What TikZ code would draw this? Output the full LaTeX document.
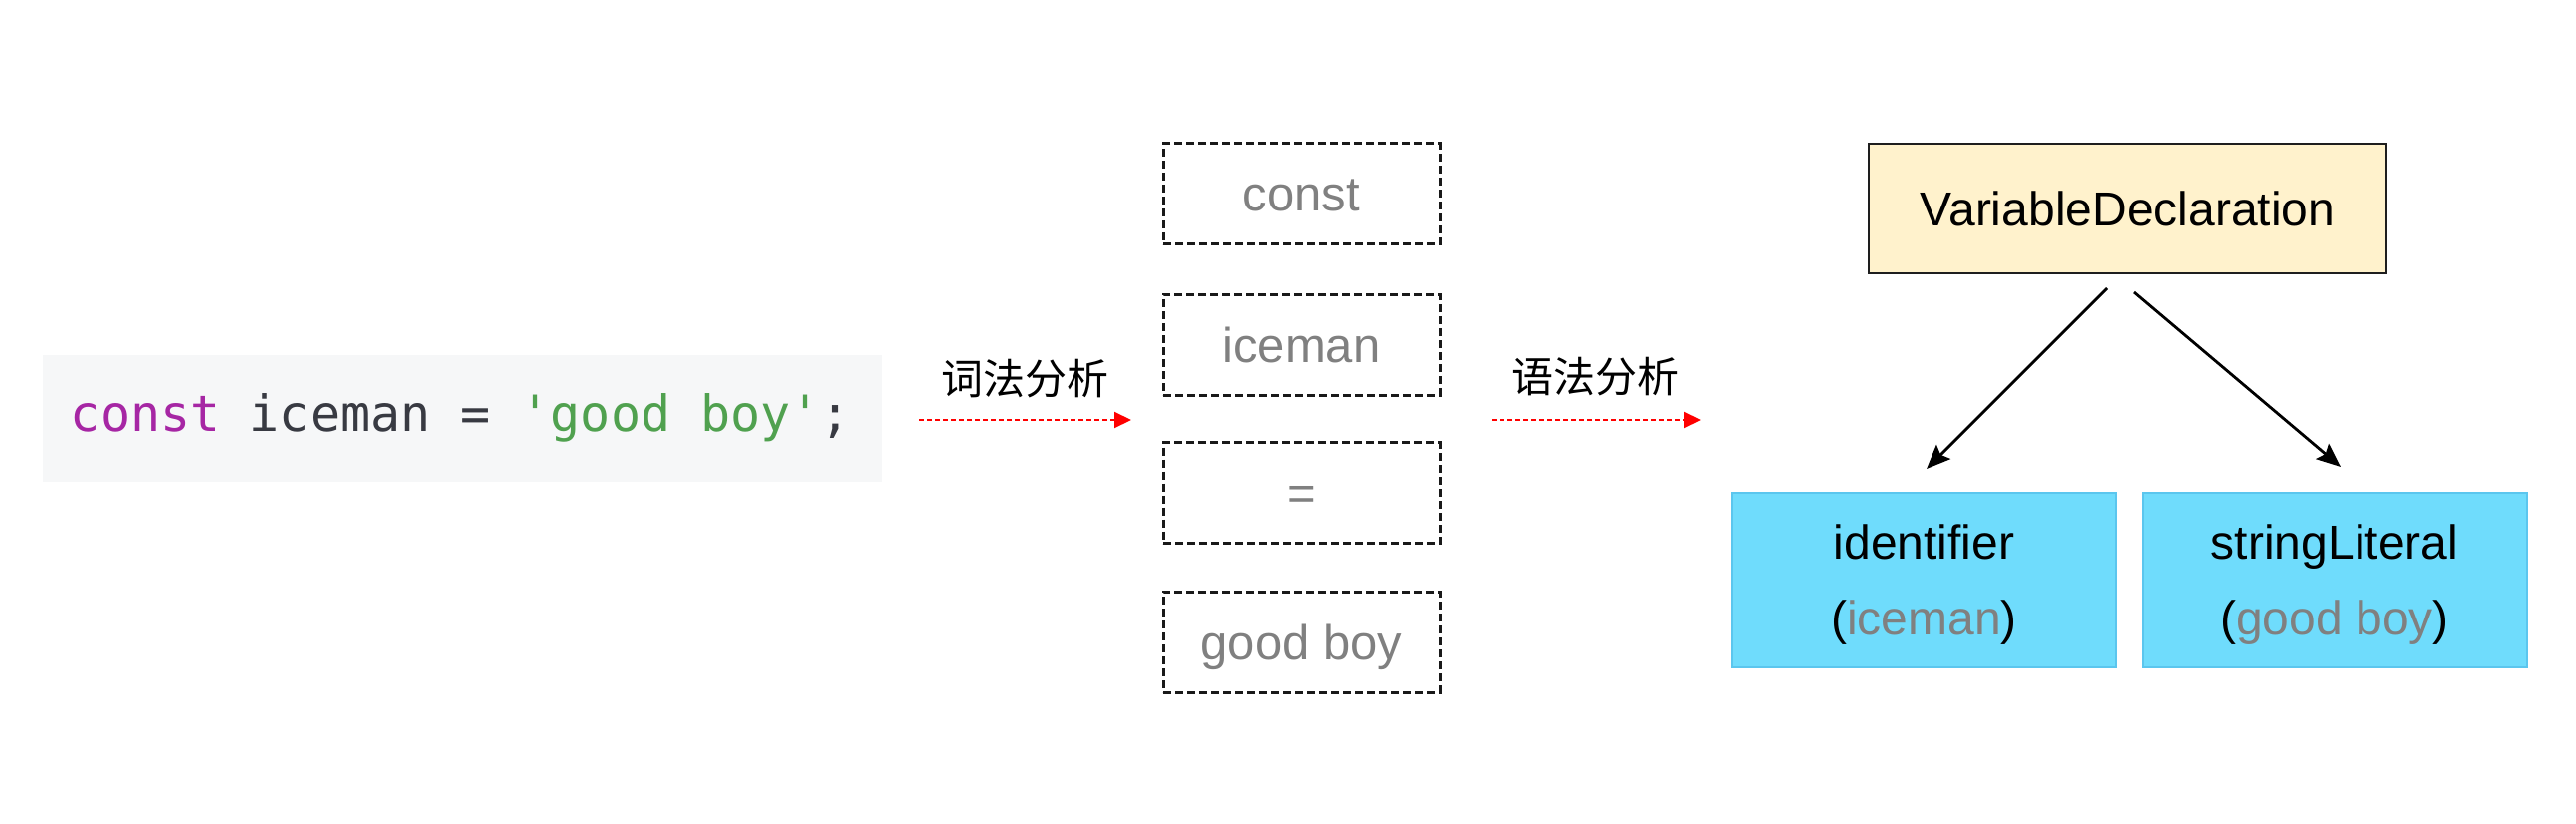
\documentclass[tikz,border=0pt]{standalone}
\usepackage{fontspec}
\setmainfont{Liberation Sans}
\newfontfamily\cjkfont{Noto Sans CJK SC}
\newfontfamily\codefont[Ligatures=TeXOff]{DejaVu Sans Mono}
\usetikzlibrary{arrows.meta}
\definecolor{codebg}{HTML}{F6F7F8}
\definecolor{kw}{HTML}{A626A4}
\definecolor{str}{HTML}{50A14F}
\definecolor{plain}{HTML}{383A42}
\definecolor{tokgray}{HTML}{808080}
\definecolor{declfill}{HTML}{FFF2CC}
\definecolor{declline}{HTML}{1E1E1E}
\definecolor{leaffill}{HTML}{6FDCFC}
\definecolor{leafline}{HTML}{5BC6EE}
\definecolor{redline}{HTML}{FF0000}
\begin{document}
\begin{tikzpicture}[x=1pt,y=-1pt,
  tokbox/.style={draw=black!90, line width=3pt, dash pattern=on 8pt off 4pt,
    minimum width=277pt, minimum height=101pt, inner sep=0pt, text=tokgray,
    font=\fontsize{49}{58}\selectfont, text height=35pt, text depth=0pt},
  declbox/.style={draw=declline, fill=declfill, line width=2.6pt,
    minimum width=519pt, minimum height=130pt, inner sep=0pt,
    font=\fontsize{48}{58}\selectfont, text height=34.4pt, text depth=0pt},
  leafbox/.style={draw=leafline, fill=leaffill, line width=2pt,
    minimum width=385pt, minimum height=175pt, inner sep=0pt},
  leaftext/.style={inner sep=0pt, anchor=base, font=\fontsize{48}{58}\selectfont},
  cjklabel/.style={inner sep=0pt, font=\cjkfont\fontsize{42}{50}\selectfont},
  redarrow/.style={draw=redline, line width=2pt, dash pattern=on 5pt off 3pt,
    -{Triangle[length=17pt,width=16pt,fill=redline]}},
  treearrow/.style={draw=black, line width=2.8pt,
    -{Stealth[length=24pt,width=20pt,inset=4pt]}}
]
\useasboundingbox (0,0) rectangle (2582,826);

% source code
\node[fill=codebg, minimum width=841pt, minimum height=127pt, inner sep=0pt] (code) at (463.5,419.5) {};
\node[anchor=base west, inner sep=0pt, font=\codefont\fontsize{50}{60}\selectfont] (codetext) at (70,432)
  {\textcolor{kw}{const} \textcolor{plain}{iceman =} \textcolor{str}{'good boy'}\textcolor{plain}{;}};

% lexical analysis
\node[cjklabel] (lex) at (1027.5,380) {词法分析};
\coordinate (a1s) at (921,421);
\coordinate (a1e) at (1134,421);
\draw[redarrow] (a1s) -- (a1e);

% tokens
\node[tokbox] (tok1) at (1304.5,194.5) {const};
\node[tokbox] (tok2) at (1304.5,345.5) {iceman};
\node[tokbox] (tok3) at (1304.5,494) {=};
\node[tokbox] (tok4) at (1304.5,643.5) {good boy};

% syntax analysis
\node[cjklabel] (parse) at (1599,378) {语法分析};
\coordinate (a2s) at (1495,421);
\coordinate (a2e) at (1705,421);
\draw[redarrow] (a2s) -- (a2e);

% tree
\node[declbox] (vd) at (2132.5,209) {VariableDeclaration};
\node[leafbox] (id) at (1928.5,581.5) {};
\node[leafbox] (sl) at (2340,581.5) {};
\node[leaftext] (idname) at (1928.5,560) {identifier};
\node[leaftext] (idval) at (1928.5,636) {(\textcolor{tokgray}{iceman})};
\node[leaftext] (slname) at (2340,560) {stringLiteral};
\node[leaftext] (slval) at (2340,636) {(\textcolor{tokgray}{good boy})};

\coordinate (t1s) at (2112,289);
\coordinate (t1e) at (1931,470);
\coordinate (t2s) at (2139,293);
\coordinate (t2e) at (2346,468);
\draw[treearrow] (t1s) -- (t1e);
\draw[treearrow] (t2s) -- (t2e);
\end{tikzpicture}
\end{document}
